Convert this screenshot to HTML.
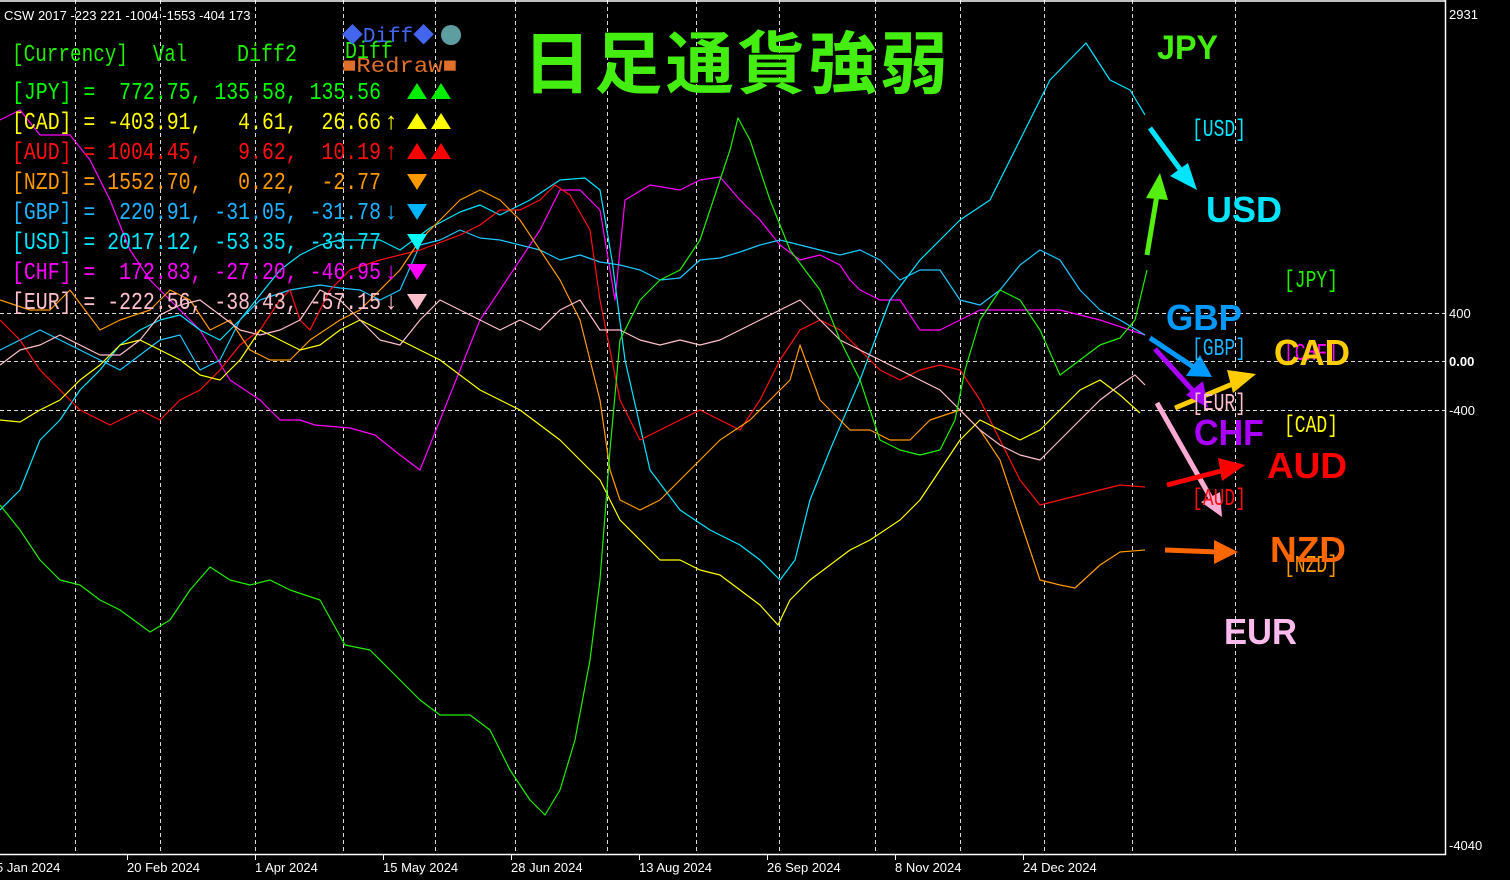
<!DOCTYPE html>
<html><head><meta charset="utf-8"><style>
html,body{margin:0;padding:0;background:#000;width:1510px;height:880px;overflow:hidden}
svg{display:block}
text{white-space:pre}
.m{font-family:"Liberation Mono","Noto Sans CJK JP",monospace;font-size:24px}
.b{font-family:"Liberation Sans",sans-serif;font-weight:bold;font-size:36px}
.ax{font-family:"Liberation Sans",sans-serif;font-size:13px;fill:#fff}
</style></head><body>
<svg width="1510" height="880" viewBox="0 0 1510 880" xmlns="http://www.w3.org/2000/svg">
<rect width="1510" height="880" fill="#000"/>
<g stroke="#fff" stroke-width="1" stroke-dasharray="4,3" opacity="0.85">
<line x1="75.5" y1="0" x2="75.5" y2="854"/><line x1="160.5" y1="0" x2="160.5" y2="854"/>
<line x1="255.5" y1="0" x2="255.5" y2="854"/><line x1="343.5" y1="0" x2="343.5" y2="854"/>
<line x1="435.5" y1="0" x2="435.5" y2="854"/><line x1="515.5" y1="0" x2="515.5" y2="854"/>
<line x1="607.5" y1="0" x2="607.5" y2="854"/><line x1="696.5" y1="0" x2="696.5" y2="854"/>
<line x1="779.5" y1="0" x2="779.5" y2="854"/><line x1="875.5" y1="0" x2="875.5" y2="854"/>
<line x1="960.5" y1="0" x2="960.5" y2="854"/><line x1="1044.5" y1="0" x2="1044.5" y2="854"/>
<line x1="1132.5" y1="0" x2="1132.5" y2="854"/><line x1="1235.5" y1="0" x2="1235.5" y2="854"/>
<line x1="0" y1="313.5" x2="1445" y2="313.5"/><line x1="0" y1="361.5" x2="1445" y2="361.5"/><line x1="0" y1="410.5" x2="1445" y2="410.5"/>
</g>
<g stroke="#fff" stroke-width="1.5" fill="none">
<line x1="1445.5" y1="0" x2="1445.5" y2="855"/><line x1="0" y1="854.5" x2="1446" y2="854.5"/>
<line x1="0" y1="1" x2="1445" y2="1"/>
</g>
<g stroke="#fff" stroke-width="1">
<line x1="127.5" y1="854" x2="127.5" y2="860"/><line x1="255.5" y1="854" x2="255.5" y2="860"/><line x1="383.5" y1="854" x2="383.5" y2="860"/><line x1="511.5" y1="854" x2="511.5" y2="860"/><line x1="639.5" y1="854" x2="639.5" y2="860"/><line x1="767.5" y1="854" x2="767.5" y2="860"/><line x1="895.5" y1="854" x2="895.5" y2="860"/><line x1="1023.5" y1="854" x2="1023.5" y2="860"/>
</g>
<g class="ax">
<text x="-4" y="872">5 Jan 2024</text><text x="127" y="872">20 Feb 2024</text><text x="255" y="872">1 Apr 2024</text><text x="383" y="872">15 May 2024</text><text x="511" y="872">28 Jun 2024</text><text x="639" y="872">13 Aug 2024</text><text x="767" y="872">26 Sep 2024</text><text x="895" y="872">8 Nov 2024</text><text x="1023" y="872">24 Dec 2024</text>
<text x="1449" y="19">2931</text><text x="1449" y="318">400</text><text x="1449" y="366" font-weight="bold">0.00</text><text x="1449" y="415">-400</text><text x="1449" y="850">-4040</text>
<text x="4" y="20">CSW 2017 -223 221 -1004 -1553 -404 173</text>
</g>
<g fill="none" stroke-width="1.2" stroke-linejoin="round">
<polyline stroke="#ff00ff" points="0,120 20,110 40,135 70,135 90,160 110,200 130,250 150,280 175,305 200,330 230,380 260,400 280,420 300,420 315,425 350,428 375,435 400,455 420,470 440,420 460,370 480,320 500,290 520,260 540,230 560,190 580,190 600,210 615,300 625,200 650,185 680,190 700,180 720,177 740,200 760,220 780,245 800,260 820,255 840,265 850,280 860,290 880,300 900,300 920,330 940,330 980,310 1020,310 1060,310 1100,320 1145,335"/>
<polyline stroke="#00e5ff" points="0,510 20,490 40,440 60,420 80,390 100,370 120,345 140,330 160,320 180,315 200,330 220,340 240,320 260,295 280,270 300,255 320,245 340,240 360,240 380,240 400,250 430,228 460,212 480,205 500,215 530,200 560,180 585,178 600,190 612,260 625,360 650,470 680,510 710,530 740,545 760,560 780,580 795,560 810,500 830,450 860,380 890,300 920,260 960,220 990,200 1020,140 1050,80 1086,43 1110,80 1130,90 1145,115"/>
<polyline stroke="#1ec8ff" points="0,350 20,340 40,330 60,340 80,350 100,360 120,370 140,355 160,340 180,335 200,370 220,360 240,320 260,300 290,290 320,285 340,288 360,290 380,300 400,290 420,245 440,240 460,230 480,238 500,240 540,250 560,260 580,255 600,262 620,265 640,270 660,280 680,278 700,260 720,258 740,252 760,245 780,240 800,245 820,250 840,255 860,250 880,260 900,280 920,270 940,270 960,300 980,305 1000,290 1020,265 1040,250 1060,260 1080,290 1100,310 1120,320 1145,335"/>
<polyline stroke="#ff1010" points="0,320 20,340 40,370 60,390 80,410 110,425 140,410 160,420 180,400 200,390 220,370 240,345 260,330 280,300 290,290 300,320 310,330 330,290 350,270 380,260 420,250 460,235 480,225 500,210 520,210 540,200 555,185 570,195 590,230 600,300 620,400 640,440 660,430 680,420 700,410 720,420 740,430 760,400 780,360 800,330 820,320 840,330 860,350 880,370 900,380 920,370 940,365 960,370 980,400 1000,440 1020,480 1040,505 1060,500 1080,495 1100,490 1120,485 1145,487"/>
<polyline stroke="#ff9900" points="0,300 30,310 50,310 70,290 100,330 120,320 150,310 170,290 190,300 210,330 230,320 250,350 270,360 290,360 310,340 340,320 360,310 380,290 400,270 420,240 440,220 460,200 480,190 500,200 520,220 560,280 580,320 600,400 610,470 620,500 640,510 660,500 690,470 720,440 750,420 770,400 790,380 800,345 820,400 850,430 870,430 890,440 910,440 930,420 960,410 980,430 1000,460 1020,520 1040,580 1060,585 1075,588 1100,565 1120,552 1145,550"/>
<polyline stroke="#ffff00" points="0,420 20,422 40,410 60,400 80,380 100,365 120,345 140,340 160,350 180,360 200,375 220,380 240,360 260,330 280,340 300,350 320,345 340,330 360,320 400,340 440,360 480,390 520,410 560,440 580,460 600,480 620,520 640,540 660,560 680,560 700,570 720,575 740,590 760,605 778,625 790,600 810,580 830,565 850,550 870,540 900,520 920,500 940,470 960,440 980,420 1000,430 1020,440 1040,430 1060,410 1080,390 1100,380 1120,395 1140,413"/>
<polyline stroke="#ffc0cb" points="0,365 20,350 40,345 60,335 80,345 100,355 120,355 140,340 160,315 180,305 200,300 220,315 240,330 260,335 280,330 300,320 320,290 340,300 360,320 380,340 400,345 420,320 440,300 460,310 480,320 500,330 520,320 540,330 560,310 580,300 600,330 620,330 640,340 660,345 680,340 700,345 720,340 740,330 760,320 780,310 800,300 820,320 840,340 860,350 880,360 900,370 920,380 940,390 960,410 980,430 1000,445 1020,455 1040,460 1060,440 1080,420 1100,400 1120,385 1135,375 1145,385"/>
<polyline stroke="#22ee00" points="0,505 20,530 40,560 60,580 80,585 100,600 120,610 150,632 170,620 190,590 210,567 230,580 250,585 270,580 290,590 320,600 345,645 370,650 390,670 420,700 440,715 470,715 490,730 510,770 530,800 545,815 560,790 575,740 590,660 600,580 610,450 620,340 640,300 660,280 680,270 700,240 720,180 730,150 738,118 750,140 770,200 790,250 820,290 840,340 860,380 880,440 900,450 920,455 940,450 955,420 965,370 980,320 1000,290 1020,300 1040,330 1060,375 1080,360 1100,345 1120,338 1135,320 1147,270"/>
</g>
<!-- table -->
<g class="m">
<text x="12" y="61" fill="#22ee00" textLength="116" lengthAdjust="spacingAndGlyphs">[Currency]</text>
<text x="153" y="61" fill="#22ee00" textLength="34" lengthAdjust="spacingAndGlyphs">Val</text>
<text x="237" y="61" fill="#22ee00" textLength="60" lengthAdjust="spacingAndGlyphs">Diff2</text>
<text x="345" y="58" fill="#22ee00" textLength="48" lengthAdjust="spacingAndGlyphs">Diff</text>
<text x="342" y="42" fill="#4466ee" font-size="21" textLength="92" lengthAdjust="spacingAndGlyphs">◆Diff◆</text><circle cx="451" cy="35" r="10" fill="#5f9ea0"/>
<text x="342" y="72" fill="#e0702a" font-size="21" textLength="115" lengthAdjust="spacingAndGlyphs">■Redraw■</text>
<text x="12" y="99" fill="#00ff00" textLength="369" lengthAdjust="spacingAndGlyphs">[JPY] =  772.75, 135.58, 135.56</text>
<text x="12" y="129" fill="#ffff00" textLength="369" lengthAdjust="spacingAndGlyphs">[CAD] = -403.91,   4.61,  26.66</text><text x="384" y="129" fill="#ffff00">↑</text>
<text x="12" y="159" fill="#ff1010" textLength="369" lengthAdjust="spacingAndGlyphs">[AUD] = 1004.45,   9.62,  10.19</text><text x="384" y="159" fill="#ff1010">↑</text>
<text x="12" y="189" fill="#ff9900" textLength="369" lengthAdjust="spacingAndGlyphs">[NZD] = 1552.70,   0.22,  -2.77</text>
<text x="12" y="219" fill="#1eb4ff" textLength="369" lengthAdjust="spacingAndGlyphs">[GBP] =  220.91, -31.05, -31.78</text><text x="384" y="219" fill="#1eb4ff">↓</text>
<text x="12" y="249" fill="#00e5ff" textLength="369" lengthAdjust="spacingAndGlyphs">[USD] = 2017.12, -53.35, -33.77</text>
<text x="12" y="279" fill="#ff00ff" textLength="369" lengthAdjust="spacingAndGlyphs">[CHF] =  172.83, -27.20, -46.95</text><text x="384" y="279" fill="#ff00ff">↓</text>
<text x="12" y="309" fill="#ffc0cb" textLength="369" lengthAdjust="spacingAndGlyphs">[EUR] = -222.56, -38.43, -57.15</text><text x="384" y="309" fill="#ffc0cb">↓</text>
</g>
<g>
<polygon points="417,83 407,99 427,99" fill="#00ee00"/><polygon points="441,83 431,99 451,99" fill="#00ee00"/>
<polygon points="417,113 407,129 427,129" fill="#ffff00"/><polygon points="441,113 431,129 451,129" fill="#ffff00"/>
<polygon points="417,143 407,159 427,159" fill="#ff0000"/><polygon points="441,143 431,159 451,159" fill="#ff0000"/>
<polygon points="407,174 427,174 417,190" fill="#ff9900"/>
<polygon points="407,204 427,204 417,220" fill="#00b4ff"/>
<polygon points="407,234 427,234 417,250" fill="#00ffff"/>
<polygon points="407,264 427,264 417,280" fill="#ff00ff"/>
<polygon points="407,294 427,294 417,310" fill="#ffc0cb"/>
</g>
<text x="523" y="88" font-family="'Noto Sans CJK JP',sans-serif" font-weight="bold" font-size="68" fill="#44ee11" textLength="425">日足通貨強弱</text>
<g stroke-width="5" fill="none">
<line x1="1147" y1="255" x2="1157" y2="195" stroke="#55ee11"/>
<line x1="1150" y1="128" x2="1182" y2="172" stroke="#00e5ff"/>
<line x1="1150" y1="338" x2="1195" y2="368" stroke="#0099ff"/>
<line x1="1155" y1="349" x2="1195" y2="393" stroke="#aa00ff"/>
<line x1="1175" y1="408" x2="1235" y2="383" stroke="#ffcc00"/>
<line x1="1157" y1="403" x2="1212" y2="500" stroke="#ffaad4"/>
<line x1="1167" y1="485" x2="1225" y2="470" stroke="#ff0000"/>
<line x1="1165" y1="550" x2="1218" y2="552" stroke="#ff6600"/>
</g>
<g>
<polygon points="1160,173 1146,198 1168,200" fill="#55ee11"/>
<polygon points="1197,190 1170,176 1188,163" fill="#00e5ff"/>
<polygon points="1212,377 1186,376 1200,355" fill="#0099ff"/>
<polygon points="1208,408 1186,395 1203,381" fill="#aa00ff"/>
<polygon points="1256,374 1233,393 1227,370" fill="#ffcc00"/>
<polygon points="1222,517 1201,502 1220,492" fill="#ffaad4"/>
<polygon points="1245,465 1222,481 1218,458" fill="#ff0000"/>
<polygon points="1238,552 1214,564 1214,540" fill="#ff6600"/>
</g>
<g class="m" font-size="24">
<text x="1192" y="136" fill="#00e5ff" textLength="54" lengthAdjust="spacingAndGlyphs">[USD]</text>
<text x="1284" y="287" fill="#22ee00" textLength="54" lengthAdjust="spacingAndGlyphs">[JPY]</text>
<text x="1192" y="355" fill="#1eb4ff" textLength="54" lengthAdjust="spacingAndGlyphs">[GBP]</text>
<text x="1284" y="360" fill="#ff00ff" textLength="54" lengthAdjust="spacingAndGlyphs">[CHF]</text>
<text x="1192" y="410" fill="#ffc0cb" textLength="54" lengthAdjust="spacingAndGlyphs">[EUR]</text>
<text x="1284" y="432" fill="#ffff00" textLength="54" lengthAdjust="spacingAndGlyphs">[CAD]</text>
<text x="1192" y="505" fill="#ff1010" textLength="54" lengthAdjust="spacingAndGlyphs">[AUD]</text>
<text x="1284" y="572" fill="#ff9900" textLength="54" lengthAdjust="spacingAndGlyphs">[NZD]</text>
</g>
<g class="b">
<text x="1157" y="59" fill="#44ee11" font-size="34" textLength="61" lengthAdjust="spacingAndGlyphs">JPY</text>
<text x="1206" y="222" fill="#00e5ff" textLength="76" lengthAdjust="spacingAndGlyphs">USD</text>
<text x="1166" y="330" fill="#0099ff" textLength="76" lengthAdjust="spacingAndGlyphs">GBP</text>
<text x="1274" y="365" fill="#ffcc00" textLength="76" lengthAdjust="spacingAndGlyphs">CAD</text>
<text x="1194" y="445" fill="#aa00ff" textLength="70" lengthAdjust="spacingAndGlyphs">CHF</text>
<text x="1267" y="478" fill="#ff0000" textLength="80" lengthAdjust="spacingAndGlyphs">AUD</text>
<text x="1270" y="562" fill="#ff6600" textLength="76" lengthAdjust="spacingAndGlyphs">NZD</text>
<text x="1224" y="644" fill="#ffbbee" textLength="73" lengthAdjust="spacingAndGlyphs">EUR</text>
</g>
</svg>
</body></html>
